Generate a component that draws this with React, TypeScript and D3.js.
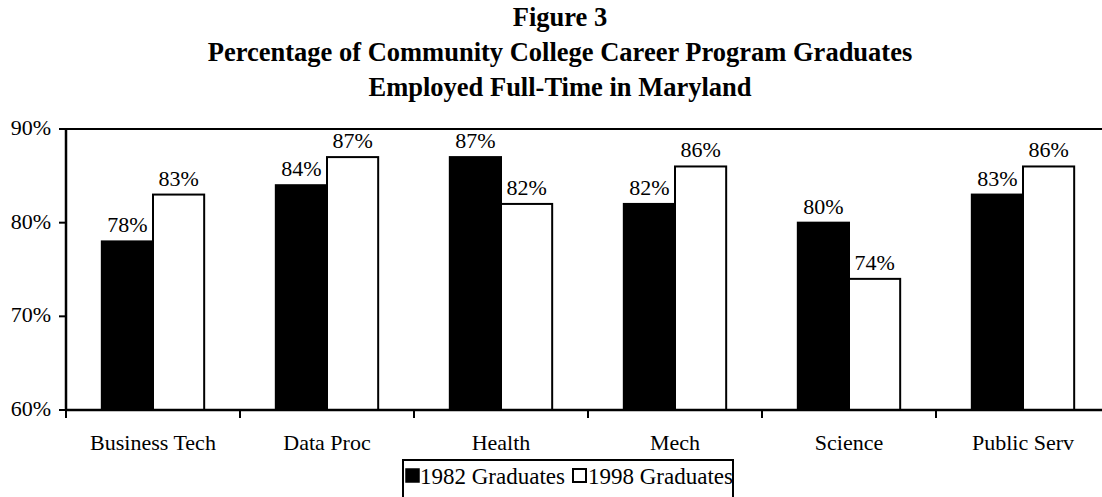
import * as d3 from 'd3';

const categories = ['Business Tech', 'Data Proc', 'Health', 'Mech', 'Science', 'Public Serv'];
const grads1982 = [78, 84, 87, 82, 80, 83];
const grads1998 = [83, 87, 82, 86, 74, 86];
const yTicks = [60, 70, 80, 90];
const seriesNames = ['1982 Graduates', '1998 Graduates'];
const titleLines = [
  'Figure 3',
  'Percentage of Community College Career Program Graduates',
  'Employed Full-Time in Maryland',
];

const W = 1102;
const H = 497;
const FONT = '"Liberation Serif", "Times New Roman", serif';

export default function App() {
  const plot = { left: 66, right: 1110, top: 129, bottom: 410 };

  const x0 = d3.scaleBand<string>().domain(categories).range([plot.left, plot.right]).padding(0);
  const x1 = d3
    .scaleBand<string>()
    .domain(seriesNames)
    .range([0, x0.bandwidth()])
    .paddingInner(0)
    .paddingOuter(0.7);
  const y = d3.scaleLinear().domain([60, 90]).range([plot.bottom, plot.top]);

  const series = [
    { name: seriesNames[0], values: grads1982, fill: '#000' },
    { name: seriesNames[1], values: grads1998, fill: '#fff' },
  ];

  // tick marks on the category axis sit at band edges
  const xEdges = categories.map((c) => x0(c) as number).concat([plot.right]);

  return (
    <svg
      width={W}
      height={H}
      style={{ position: 'absolute', left: 0, top: 0, background: '#fff' }}
      fontFamily={FONT}
    >
      <rect width={W} height={H} fill="#fff" />

      {/* title */}
      {titleLines.map((t, i) => (
        <text
          key={t}
          x={560}
          y={26 + i * 35}
          textAnchor="middle"
          fontSize={26.5}
          fontWeight="bold"
          fill="#000"
        >
          {t}
        </text>
      ))}

      {/* plot area border */}
      <rect
        x={plot.left}
        y={plot.top}
        width={plot.right - plot.left}
        height={plot.bottom - plot.top}
        fill="none"
        stroke="#000"
        strokeWidth={2}
      />

      {/* bars */}
      {series.map((s) =>
        categories.map((c, i) => {
          const bx = (x0(c) as number) + (x1(s.name) as number);
          const by = y(s.values[i]);
          return (
            <rect
              key={s.name + c}
              x={bx}
              y={by}
              width={x1.bandwidth()}
              height={plot.bottom - by}
              fill={s.fill}
              stroke="#000"
              strokeWidth={2}
            />
          );
        })
      )}

      {/* data labels */}
      {series.map((s) =>
        categories.map((c, i) => {
          const cx = (x0(c) as number) + (x1(s.name) as number) + x1.bandwidth() / 2;
          return (
            <text
              key={'l' + s.name + c}
              x={cx}
              y={y(s.values[i]) - 9}
              textAnchor="middle"
              fontSize={22}
              fill="#000"
            >
              {s.values[i]}%
            </text>
          );
        })
      )}

      {/* y axis */}
      <line x1={plot.left} x2={plot.left} y1={plot.top} y2={plot.bottom} stroke="#000" strokeWidth={2.5} />
      {yTicks.map((t) => (
        <g key={t}>
          <line x1={plot.left - 7} x2={plot.left} y1={y(t)} y2={y(t)} stroke="#000" strokeWidth={2} />
          <text x={plot.left - 15} y={y(t) + 6} textAnchor="end" fontSize={22} fill="#000">
            {t}%
          </text>
        </g>
      ))}

      {/* x axis */}
      <line x1={plot.left} x2={plot.right} y1={plot.bottom} y2={plot.bottom} stroke="#000" strokeWidth={2.5} />
      {xEdges.map((ex, i) => (
        <line key={i} x1={ex} x2={ex} y1={plot.bottom} y2={plot.bottom + 8} stroke="#000" strokeWidth={2} />
      ))}
      {categories.map((c) => (
        <text
          key={'c' + c}
          x={(x0(c) as number) + x0.bandwidth() / 2}
          y={450}
          textAnchor="middle"
          fontSize={22}
          fill="#000"
        >
          {c}
        </text>
      ))}

      {/* legend */}
      <rect x={403} y={460} width={330} height={50} fill="#fff" stroke="#000" strokeWidth={2} />
      <rect x={406} y={469} width={13} height={13} fill="#000" stroke="#000" strokeWidth={1.5} />
      <text x={420} y={484} fontSize={23} fill="#000">
        {seriesNames[0]}
      </text>
      <rect x={573} y={469} width={13} height={13} fill="#fff" stroke="#000" strokeWidth={2} />
      <text x={588} y={484} fontSize={23} fill="#000">
        {seriesNames[1]}
      </text>
    </svg>
  );
}
